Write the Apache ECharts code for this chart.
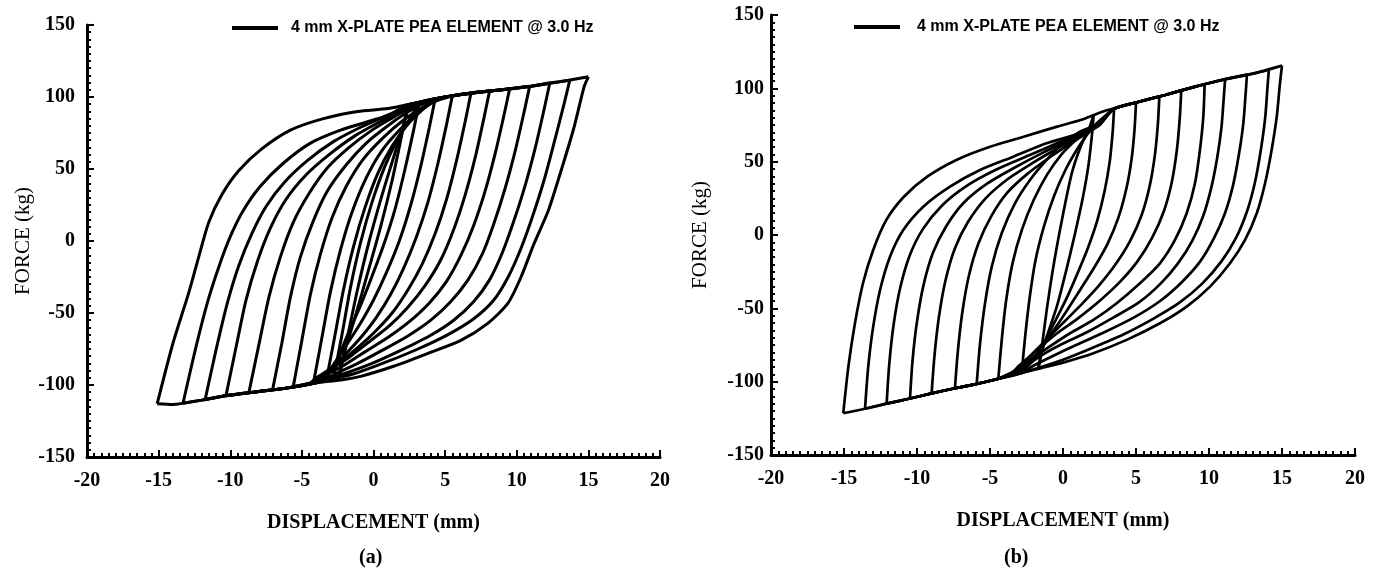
<!DOCTYPE html>
<html>
<head>
<meta charset="utf-8">
<script src="https://cdn.jsdelivr.net/npm/echarts@6/dist/echarts.min.js"></script>
<style>
  html, body { margin: 0; padding: 0; background: #fff; }
  #chart { width: 1386px; height: 568px; }
</style>
</head>
<body>
<div id="chart"></div>
<script>
const legendName = '4 mm X-PLATE PEA ELEMENT @ 3.0 Hz';
const xTicks = [-20, -15, -10, -5, 0, 5, 10, 15, 20];
const yTicks = [-150, -100, -50, 0, 50, 100, 150];

// (a) test loops: loading branches (lower left -> upper right)
const loadingA = [
  [[-15.1,-113],[-14.0,-71],[-12.9,-36],[-12.2,-11],[-11.5,13],[-10.6,32],[-9.4,49],[-7.8,64],[-5.8,77],[-3.5,85],[-1.1,90],[1,92],[3,96],[5,100],[7,103],[9,105],[11,107.5],[13,110.5],[15,114]],
  [[-13.3,-112.7],[-12.45,-76],[-11.6,-43],[-10.8,-18],[-10.0,3],[-9.1,21],[-7.9,38],[-6.3,54],[-4.4,68],[-2.3,77],[0.0,84],[1.2,88],[2.2,94],[3,96],[5,100],[7,103],[9,105],[11,107.5],[12.5,110],[13.7,111.6]],
  [[-11.75,-110],[-11.0,-76],[-10.2,-43],[-9.4,-17],[-8.5,5],[-7.5,24],[-6.2,41],[-4.6,56],[-2.8,69],[-0.9,79],[0.9,87],[2.3,93],[3.2,96.4],[5,100],[7,103],[9,105],[11,107.5],[12.3,109.5]],
  [[-10.3,-107.5],[-9.6,-74],[-8.9,-41],[-8.1,-14],[-7.2,9],[-6.1,29],[-4.7,46],[-3.1,60],[-1.3,73],[0.5,83],[1.9,90],[3.0,95],[4.3,98.6],[6,101.5],[8,104],[10.9,107.4]],
  [[-8.7,-105.3],[-8.0,-72],[-7.3,-39],[-6.5,-11],[-5.6,13],[-4.5,33],[-3.2,51],[-1.7,65],[-0.1,77],[1.4,86],[2.6,93],[3.7,97.4],[5.5,100.8],[7,103],[9.5,105.5]],
  [[-7.05,-103.5],[-6.4,-71],[-5.8,-39],[-5.1,-11],[-4.2,14],[-3.2,35],[-1.9,53],[-0.5,68],[1.0,80],[2.3,89],[3.4,95],[4.6,99],[6,101.5],[8.1,104.1]],
  [[-5.6,-101],[-5.0,-69],[-4.4,-37],[-3.7,-9],[-2.9,16],[-1.9,38],[-0.7,57],[0.7,72],[2.1,84],[3.3,92],[4.4,97.8],[5.5,100.8],[6.8,102.7]],
  [[-4.2,-99],[-3.6,-67],[-3.0,-35],[-2.3,-6],[-1.5,20],[-0.5,44],[0.6,63],[1.9,78],[3.1,89],[4.2,96.5],[5.5,100.8]],
  [[-3.3,-97],[-2.7,-66],[-2.1,-34],[-1.4,-4],[-0.6,23],[0.3,47],[1.3,66],[2.4,81],[3.4,91],[4.3,98.6]],
  [[-2.8,-96],[-2.2,-65],[-1.6,-32],[-0.9,-1],[-0.1,27],[0.8,52],[1.7,71],[2.6,86],[3.2,96.4]],
  [[-2.4,-95.5],[-1.8,-66],[-1.1,-33],[-0.3,0],[0.6,32],[1.4,58],[2.0,78],[2.3,88],[2.4,94.8]]
];

// (a) unloading branches (upper right -> lower left)
const unloadingA = [
  [[15.0,114],[14.7,107],[14.0,79],[13.1,49],[12.2,21],[11.2,-2],[10.3,-25],[9.4,-43],[8.0,-57],[6.1,-69],[3.8,-78],[1.4,-87],[-0.9,-94],[-2.3,-96.5],[-4,-98.5],[-6,-102],[-8,-104.5],[-10,-107],[-12,-110.5],[-14,-113.5],[-15.1,-113]],
  [[13.7,111.6],[13.3,95],[12.6,68],[11.9,42],[11.1,17],[10.3,-5],[9.4,-25],[8.4,-41],[7.0,-54],[5.2,-65],[3.1,-75],[0.9,-84],[-1.3,-92],[-3.0,-96],[-4,-98.5],[-6,-102],[-8,-104.5],[-10,-107],[-12,-110.5],[-13.3,-112.7]],
  [[12.3,109.5],[11.9,91],[11.3,65],[10.6,39],[9.8,14],[9.0,-8],[8.1,-27],[7.0,-42],[5.6,-55],[3.9,-66],[1.9,-76],[-0.1,-85],[-2.0,-92],[-3.3,-96],[-4,-98.5],[-6,-102],[-8,-104.5],[-10,-107],[-11.75,-110]],
  [[10.9,107.4],[10.5,89],[9.9,63],[9.2,37],[8.4,12],[7.6,-9],[6.6,-27],[5.4,-42],[4.0,-55],[2.4,-66],[0.6,-76],[-1.1,-85],[-2.6,-92],[-3.5,-96.5],[-4,-98.5],[-6,-102],[-8,-104.5],[-10.3,-107.5]],
  [[9.5,105.5],[9.1,87],[8.5,61],[7.8,35],[7.0,11],[6.1,-10],[5.1,-28],[3.9,-43],[2.5,-56],[1.0,-67],[-0.6,-77],[-2.0,-86],[-3.1,-92],[-3.8,-97],[-6,-102],[-8.7,-105.3]],
  [[8.1,104.1],[7.7,85],[7.1,58],[6.4,32],[5.6,8],[4.7,-13],[3.6,-31],[2.4,-46],[1.1,-59],[-0.3,-70],[-1.6,-80],[-2.8,-88],[-3.6,-94],[-4.1,-98],[-5,-100.5],[-7.05,-103.5]],
  [[6.8,102.7],[6.4,83],[5.8,56],[5.1,29],[4.3,5],[3.4,-16],[2.4,-34],[1.3,-50],[0.1,-63],[-1.1,-74],[-2.2,-83],[-3.2,-90],[-4.0,-95],[-4.4,-98.5],[-5.6,-101]],
  [[5.5,100.8],[5.1,81],[4.5,54],[3.8,27],[3.0,3],[2.1,-19],[1.2,-37],[0.2,-53],[-0.8,-66],[-1.8,-77],[-2.7,-86],[-3.5,-93],[-4.2,-99]],
  [[4.3,98.6],[3.9,79],[3.3,52],[2.6,25],[1.8,0],[0.9,-22],[0.0,-41],[-0.9,-57],[-1.8,-71],[-2.6,-83],[-3.1,-91],[-3.3,-97]],
  [[3.2,96.4],[2.8,77],[2.2,50],[1.5,22],[0.7,-3],[-0.2,-27],[-1.0,-47],[-1.8,-65],[-2.4,-80],[-2.7,-90],[-2.8,-96]],
  [[2.4,94.8],[1.9,70],[1.3,42],[0.5,10],[-0.4,-22],[-1.2,-50],[-1.9,-73],[-2.3,-87],[-2.4,-95.5]]
];

// (b) model loops: loading branches
const loadingB = [
  [[-15.05,-121.5],[-14.7,-89.7],[-14.25,-60.2],[-13.7,-32.9],[-13.0,-10.2],[-12.1,10.3],[-10.9,26.1],[-9.3,39.8],[-7.3,51.2],[-5.0,60.2],[-2.7,67],[-0.4,73.9],[1.2,78.4],[3,85],[5,90.3],[7,95.5],[9,101],[11,106],[13,110],[15,115.5]],
  [[-13.56,-118.5],[-13.34,-89.7],[-13.0,-62.5],[-12.53,-37.5],[-11.85,-14.8],[-10.94,3.4],[-9.57,19.3],[-7.74,33],[-5.68,44.3],[-3.4,53.4],[-1.12,62.5],[1.16,69.3],[2.3,75],[3.4,85.5],[5,90.3],[7,95.5],[9,101],[11,106],[13,110],[14.1,112.7]],
  [[-12.08,-115],[-11.9,-88],[-11.6,-61],[-11.15,-36],[-10.5,-14],[-9.6,4],[-8.3,20],[-6.6,33.5],[-4.6,44.5],[-2.4,54],[-0.3,63],[1.4,70],[2.3,75],[3.4,85.5],[5,90.3],[7,95.5],[9,101],[11,106],[12.6,109.3]],
  [[-10.48,-111.5],[-10.3,-85],[-10.0,-59],[-9.55,-34],[-8.9,-12],[-8.0,6],[-6.8,22],[-5.2,35],[-3.3,46],[-1.4,56],[0.5,65],[1.8,71],[2.4,75],[3.5,86],[5,90.3],[7,95.5],[9,101],[11.1,106]],
  [[-9.0,-108],[-8.8,-82],[-8.5,-56],[-8.05,-31],[-7.4,-9],[-6.5,9],[-5.3,25],[-3.8,38],[-2.1,49],[-0.4,59],[1.1,67],[2.1,72.5],[2.5,75],[3.5,86],[5,90.3],[7,95.5],[9,101],[9.7,102.8]],
  [[-7.4,-104.5],[-7.2,-79],[-6.9,-53],[-6.45,-28],[-5.8,-6],[-4.9,13],[-3.8,29],[-2.4,42],[-0.9,53],[0.6,63],[1.8,70.5],[2.5,75],[3.5,86],[5,90.3],[7,95.5],[8.1,98.7]],
  [[-5.91,-101.5],[-5.68,-73.8],[-5.34,-46.5],[-4.88,-21.6],[-4.2,1.2],[-3.29,21.6],[-2.26,37.5],[-1.12,51.2],[0.02,62.5],[1.16,70.4],[2.2,75],[3.5,86],[5,90.3],[6.6,94.6]],
  [[-4.43,-98],[-4.2,-72],[-3.9,-45],[-3.45,-19],[-2.8,4],[-2.0,24],[-1.1,41],[-0.1,55],[0.9,65],[1.8,72],[2.4,76],[3.5,86],[5,90.3]],
  [[-2.83,-94],[-2.6,-70],[-2.3,-44],[-1.9,-18],[-1.3,6],[-0.6,27],[0.2,45],[1.0,59],[1.7,69],[2.3,76],[3.5,86.2]],
  [[-1.7,-91.5],[-1.5,-80],[-1.1,-50],[-0.6,-18],[0.0,14],[0.6,42],[1.2,60],[1.8,73],[2.1,82.3]]
];

// (b) unloading branches
const unloadingB = [
  [[15,115.5],[14.86,103.4],[14.64,80.7],[14.29,58],[13.84,35.3],[13.27,14.8],[12.47,-3.4],[11.44,-19.3],[10.07,-35.2],[8.47,-48.8],[6.64,-60.2],[4.36,-71.5],[2.08,-80.6],[0.0,-87],[-1.5,-90.8],[-2.83,-94],[-4.43,-98],[-5.91,-101.5],[-7.4,-104.5],[-9.0,-108],[-10.48,-111.5],[-12.08,-115],[-13.56,-118.5],[-15.05,-121.5]],
  [[14.1,112.7],[14.0,100],[13.85,80],[13.55,58],[13.15,36],[12.6,16],[11.85,-2],[10.85,-18],[9.55,-33],[8.0,-46],[6.2,-57],[4.1,-68],[2.0,-77],[0.0,-85],[-1.5,-90],[-2.83,-94],[-4.43,-98],[-5.91,-101.5],[-7.4,-104.5],[-9.0,-108],[-10.48,-111.5],[-12.08,-115],[-13.56,-118.5]],
  [[12.6,109.3],[12.5,95],[12.35,76],[12.05,55],[11.65,34],[11.1,15],[10.35,-2],[9.4,-18],[8.15,-32],[6.65,-45],[4.9,-56],[2.9,-66],[0.9,-75],[-0.8,-83],[-2.0,-89],[-2.83,-94],[-4.43,-98],[-5.91,-101.5],[-7.4,-104.5],[-9.0,-108],[-10.48,-111.5],[-12.08,-115]],
  [[11.1,106],[11.0,92],[10.85,73],[10.55,52],[10.15,32],[9.6,13],[8.85,-4],[7.9,-19],[6.7,-33],[5.2,-46],[3.5,-56],[1.7,-66],[0.0,-74],[-1.3,-81],[-2.2,-87],[-3.0,-93],[-4.43,-98],[-5.91,-101.5],[-7.4,-104.5],[-9.0,-108],[-10.48,-111.5]],
  [[9.7,102.8],[9.61,80.7],[9.38,58],[9.04,35.3],[8.47,14.8],[7.67,-3.4],[6.64,-19.3],[5.27,-32.9],[3.68,-46.5],[2.08,-57.9],[0.48,-67],[-0.9,-76],[-1.9,-83],[-2.7,-89],[-3.3,-94.5],[-4.43,-98],[-5.91,-101.5],[-7.4,-104.5],[-9.0,-108]],
  [[8.1,98.7],[8.0,80],[7.8,58],[7.45,36],[6.9,16],[6.1,-2],[5.1,-18],[3.9,-32],[2.5,-45],[1.0,-57],[-0.4,-67],[-1.5,-76],[-2.3,-83],[-3.0,-89],[-3.6,-95],[-4.43,-98],[-5.91,-101.5],[-7.4,-104.5]],
  [[6.6,94.6],[6.5,76],[6.3,55],[5.95,34],[5.4,14],[4.6,-4],[3.6,-20],[2.5,-34],[1.3,-47],[0.1,-59],[-0.9,-69],[-1.7,-77],[-2.4,-84],[-3.0,-90],[-3.6,-95],[-4.43,-98],[-5.91,-101.5]],
  [[5.0,90.3],[4.9,72],[4.7,52],[4.35,32],[3.8,12],[3.05,-6],[2.15,-22],[1.2,-37],[0.3,-51],[-0.5,-63],[-1.2,-73],[-1.8,-81],[-2.5,-87],[-3.2,-92],[-4.43,-98]],
  [[3.5,86.2],[3.4,70],[3.2,50],[2.85,30],[2.35,10],[1.7,-9],[1.0,-26],[0.3,-42],[-0.4,-56],[-1.0,-68],[-1.5,-78],[-2.0,-85],[-2.83,-94]],
  [[2.1,82.3],[2.0,70],[1.75,48],[1.35,25],[0.8,0],[0.2,-25],[-0.4,-48],[-1.0,-66],[-1.4,-78],[-1.7,-91.5]]
];

const serif = '"Liberation Serif", "Times New Roman", serif';
const sans = '"Liberation Sans", Arial, sans-serif';

const makeX = (grid) => ({
  type: 'value',
  gridIndex: grid,
  min: xTicks[0],
  max: xTicks[xTicks.length - 1],
  interval: xTicks[1] - xTicks[0],
  name: 'DISPLACEMENT (mm)',
  nameLocation: 'middle',
  nameGap: 56,
  nameTextStyle: { fontFamily: serif, fontWeight: 'bold', fontSize: 20, color: '#000' },
  axisLine: { onZero: false, lineStyle: { color: '#000', width: 3 } },
  axisTick: { inside: true, length: 7, lineStyle: { color: '#000', width: 2 } },
  minorTick: { show: true, splitNumber: 10, length: 4, lineStyle: { color: '#000', width: 2 } },
  axisLabel: { fontFamily: serif, fontWeight: 'bold', fontSize: 20, color: '#000', margin: 14 },
  splitLine: { show: false }
});

const makeY = (grid, gap, labelMargin) => ({
  type: 'value',
  gridIndex: grid,
  min: yTicks[0],
  max: yTicks[yTicks.length - 1],
  interval: yTicks[1] - yTicks[0],
  name: 'FORCE (kg)',
  nameLocation: 'middle',
  nameGap: gap,
  nameTextStyle: { fontFamily: serif, fontSize: 21, color: '#000' },
  axisLine: { show: true, onZero: false, lineStyle: { color: '#000', width: 3 } },
  axisTick: { show: true, inside: true, length: 7, lineStyle: { color: '#000', width: 2 } },
  minorTick: { show: true, splitNumber: 10, length: 4, lineStyle: { color: '#000', width: 2 } },
  axisLabel: { fontFamily: serif, fontWeight: 'bold', fontSize: 20, color: '#000', margin: labelMargin },
  splitLine: { show: false }
});

const makeSeries = (branches, axis, width) => branches.map((pts) => ({
  name: legendName,
  type: 'line',
  xAxisIndex: axis,
  yAxisIndex: axis,
  data: pts,
  symbol: 'none',
  smooth: 0.25,
  silent: true,
  lineStyle: { color: '#000', width: width },
  itemStyle: { color: '#000' }
}));

const makeLegend = (left, top, gap) => ({
  left: left,
  top: top,
  data: [legendName],
  icon: 'rect',
  itemWidth: 46,
  itemHeight: 4,
  selectedMode: false,
  textStyle: { fontFamily: sans, fontWeight: 'bold', fontSize: 16, color: '#000', padding: [0, 0, 0, gap] }
});

const initChart = () => {
  const chart = echarts.init(document.getElementById('chart'), null, { renderer: 'canvas' });
  chart.setOption({
    animation: false,
    backgroundColor: '#fff',
    grid: [
      { left: 87, right: 726, top: 25, bottom: 111 },
      { left: 771, right: 31, top: 15, bottom: 113 }
    ],
    xAxis: [makeX(0), makeX(1)],
    yAxis: [makeY(0, 40, 12), makeY(1, 60, 7)],
    legend: [makeLegend(227, 15, 8), makeLegend(849, 14, 12)],
    title: [
      { text: '(a)', left: 354, top: 543, textStyle: { fontFamily: serif, fontWeight: 'bold', fontSize: 20, color: '#000' } },
      { text: '(b)', left: 999, top: 543, textStyle: { fontFamily: serif, fontWeight: 'bold', fontSize: 20, color: '#000' } }
    ],
    series: [
      ...makeSeries(loadingA, 0, 3),
      ...makeSeries(unloadingA, 0, 3),
      ...makeSeries(loadingB, 1, 2.7),
      ...makeSeries(unloadingB, 1, 2.7)
    ]
  });
};

window.addEventListener('load', () => {
  initChart();
});
</script>
</body>
</html>
